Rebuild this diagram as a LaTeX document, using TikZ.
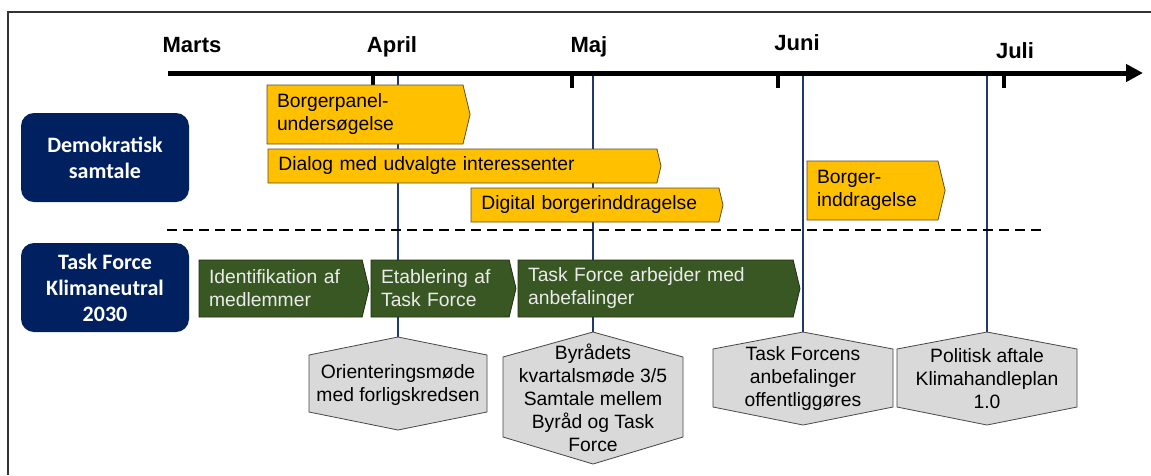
\documentclass[tikz,border=0pt]{standalone}
\usepackage{fontspec}
\setmainfont{Liberation Sans}
\newfontfamily\lanefont{Carlito}
\usetikzlibrary{shapes.symbols, arrows.meta}

\definecolor{gul}{RGB}{255,192,0}
\definecolor{gulkant}{RGB}{95,75,30}
\definecolor{groen}{RGB}{56,87,35}
\definecolor{groenkant}{RGB}{32,48,20}
\definecolor{navy}{RGB}{0,32,96}
\definecolor{graa}{RGB}{217,217,217}
\definecolor{graakant}{RGB}{70,70,70}
\definecolor{stregblaa}{RGB}{31,56,110}

\tikzstyle{lane}=[shape=rectangle,
                  rounded corners=13pt,
                  fill=navy,
                  text=white,
                  minimum width=168pt,
                  minimum height=89pt,
                  align=center,
                  font=\lanefont\bfseries\fontsize{22}{26}\selectfont]
\tikzstyle{ybox}=[shape=signal,
                  signal to=east,
                  signal pointer angle=153,
                  fill=gul,
                  draw=gulkant,
                  line width=0.8pt,
                  inner xsep=10pt,
                  inner ysep=0pt,
                  outer sep=0pt,
                  align=left,
                  anchor=west,
                  font=\fontsize{19.3}{23}\selectfont]
\tikzstyle{gbox}=[ybox,
                  fill=groen,
                  draw=groenkant,
                  text=white!92!black]
\tikzstyle{month}=[anchor=base,
                   font=\bfseries\fontsize{22}{26}\selectfont]
\tikzstyle{hexa}=[fill=graa,
                  draw=graakant,
                  line width=0.8pt]
\tikzstyle{hextext}=[align=center,
                     font=\fontsize{19.3}{23}\selectfont]
\tikzstyle{tl}=[draw=stregblaa,
                line width=1.5pt]

\begin{document}
\begin{tikzpicture}[x=1pt, y=-1pt]

\useasboundingbox (0,0) rectangle (1151,475);

% frame
\draw[line width=1.2pt, black!80] (1151,12) -- (8,12) -- (8,475);

% milestones on the axis
\coordinate (m1) at (398,73);
\coordinate (m2) at (593,73);
\coordinate (m3) at (803,73);
\coordinate (m4) at (987,73);

% hexagon tops
\coordinate (h1) at (398,337);
\coordinate (h2) at (593,332);
\coordinate (h3) at (803,332);
\coordinate (h4) at (987,332);

% milestone lines
\path[tl] (m1) edge (h1);
\path[tl] (m2) edge (h2);
\path[tl] (m3) edge (h3);
\path[tl] (m4) edge (h4);

% time axis
\coordinate (start) at (168,73);
\coordinate (end) at (1143,73);
\draw[line width=5pt, -{Triangle[length=17pt, width=17pt]}] (start) -- (end);
\foreach \x in {373, 572, 778, 1004}
  \draw[line width=4pt] (\x,73) -- (\x,88);

\node[month] (marts) at (192,52) {Marts};
\node[month] (april) at (392,52) {April};
\node[month] (maj)   at (589,52) {Maj};
\node[month] (juni)  at (797,50) {Juni};
\node[month] (juli)  at (1015,58) {Juli};

% lanes
\node[lane] (demo) at (105,157.5) {Demokratisk\\samtale};
\node[lane] (task) at (105,287.5) {Task Force\\Klimaneutral\\2030};

\draw[line width=2pt, dash pattern=on 10pt off 6pt] (167,229.5) -- (1047,229.5);

% democratic dialogue
\node[ybox, minimum width=203pt, minimum height=59pt, text width=176pt] (y1) at (267,114.5) {Borgerpanel-\\undersøgelse};
\node[ybox, minimum width=393pt, minimum height=34pt, text width=368pt] (y2) at (268,166) {Dialog med udvalgte interessenter};
\node[ybox, minimum width=252pt, minimum height=34pt, text width=227pt] (y3) at (471,205) {Digital borgerinddragelse};
\node[ybox, minimum width=138pt, minimum height=59pt, text width=111pt] (y4) at (807,190.5) {Borger-\\inddragelse};

% task force
\node[gbox, minimum width=170pt, minimum height=57pt, text width=143pt] (g1) at (199,288.5) {Identifikation af\\medlemmer};
\node[gbox, minimum width=145pt, minimum height=57pt, text width=118pt] (g2) at (371,288.5) {Etablering af\\Task Force};
\node[gbox, minimum width=282pt, minimum height=57pt, text width=255pt] (g3) at (518,288.5) {Task Force arbejder med\\anbefalinger};

% meetings
\draw[hexa] (h1) -- ++(89,18) -- ++(0,57) -- ++(-89,18) -- ++(-89,-18) -- ++(0,-57) -- cycle;
\draw[hexa] (h2) -- ++(90,25) -- ++(0,80) -- ++(-90,27) -- ++(-90,-27) -- ++(0,-80) -- cycle;
\draw[hexa] (h3) -- ++(90,17) -- ++(0,58) -- ++(-90,18) -- ++(-90,-18) -- ++(0,-58) -- cycle;
\draw[hexa] (h4) -- ++(90,17) -- ++(0,58) -- ++(-90,18) -- ++(-90,-18) -- ++(0,-58) -- cycle;

\node[hextext] (t1) at (398,385.5) {Orienteringsmøde\\med forligskredsen};
\node[hextext] (t2) at (593,398) {Byrådets\\kvartalsmøde 3/5\\Samtale mellem\\Byråd og Task\\Force};
\node[hextext] (t3) at (803,378.5) {Task Forcens\\anbefalinger\\offentliggøres};
\node[hextext] (t4) at (987,378.5) {Politisk aftale\\Klimahandleplan\\1.0};

\end{tikzpicture}
\end{document}
